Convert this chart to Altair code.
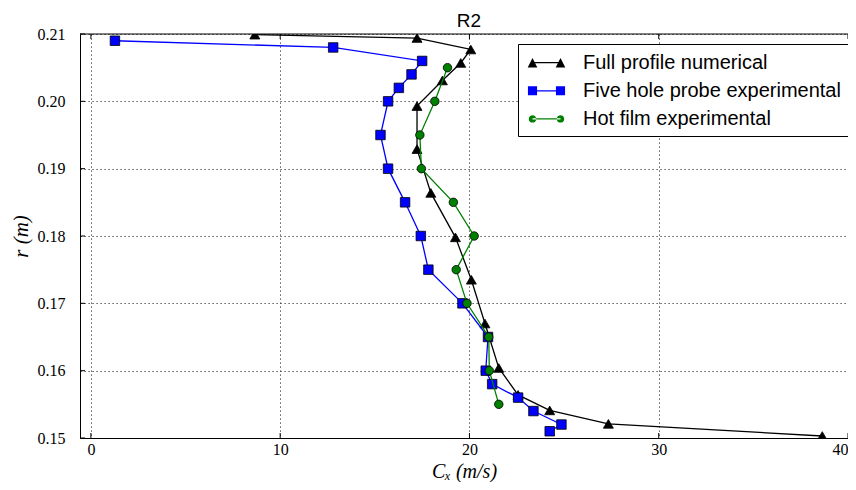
import altair as alt
import pandas as pd

chart_title = ["R2"]
series_names = ["Full profile numerical", "Five hole probe experimental", "Hot film experimental"]

full_x = [8.66, 17.23, 20.07, 19.54, 18.57, 17.23, 17.23, 17.96, 19.26, 20.10, 20.82, 21.55, 22.57, 24.24, 27.34, 38.64]
full_r = [0.2099, 0.2094, 0.2077, 0.2057, 0.2031, 0.1993, 0.1929, 0.1864, 0.1798, 0.1735, 0.1670, 0.1604, 0.1564, 0.1541, 0.1521, 0.1503]

five_x = [1.27, 12.80, 17.50, 16.94, 16.27, 15.70, 15.30, 15.70, 16.60, 17.43, 17.83, 19.63, 20.98, 20.86, 21.20, 22.57, 23.38, 24.86, 24.24]
five_r = [0.209, 0.208, 0.206, 0.204, 0.202, 0.200, 0.195, 0.190, 0.185, 0.180, 0.175, 0.170, 0.165, 0.160, 0.158, 0.156, 0.154, 0.152, 0.151]

hot_x = [18.84, 18.17, 17.38, 17.46, 19.15, 20.25, 19.30, 19.87, 21.02, 21.05, 21.55]
hot_r = [0.205, 0.200, 0.195, 0.190, 0.185, 0.180, 0.175, 0.170, 0.165, 0.160, 0.155]

x_ticks = [0, 10, 20, 30, 40]
y_ticks = [0.15, 0.16, 0.17, 0.18, 0.19, 0.20, 0.21]

rows = []
for name, xs, rs in zip(series_names, [full_x, five_x, hot_x], [full_r, five_r, hot_r]):
    for i, (xv, rv) in enumerate(zip(xs, rs)):
        rows.append({"series": name, "idx": i, "cx": xv, "r": rv})
df = pd.DataFrame(rows)

colors = ["#000000", "#0000ff", "#008000"]
shapes = ["triangle-up", "square", "circle"]
sizes = [100, 90, 72]

# legend sample paths (unit box -1..1, 12 px per unit)
tri = lambda c, h: f"M{c-h},{h}L{c},{-h}L{c+h},{h}Z"
sq = lambda c, h: f"M{c-h},{-h}L{c+h},{-h}L{c+h},{h}L{c-h},{h}Z"
circ = lambda c, r: f"M{c-r},0A{r},{r},0,1,0,{c+r},0A{r},{r},0,1,0,{c-r},0Z"
bar = "M-1.1667,-0.05L1.1667,-0.05L1.1667,0.05L-1.1667,0.05Z"
legend_paths = [
    tri(-1.1667, 0.4) + tri(1.1667, 0.4) + bar,
    sq(-1.1667, 0.38) + sq(1.1667, 0.38) + bar,
    circ(-1.1667, 0.31) + circ(1.1667, 0.31) + bar,
]

W, H = 768, 404
xscale = alt.Scale(domain=[-0.576, 40.0], nice=False, zero=False)
yscale = alt.Scale(domain=[0.15, 0.21], nice=False, zero=False)

xaxis = alt.Axis(values=x_ticks, format="d", title="Cₓ (m/s)", labelPadding=3, labelFlush=1,
                 titleY=39, titleBaseline="alphabetic", titleFontSize=20)
yaxis = alt.Axis(values=y_ticks, format=".2f", title="r (m)", labelPadding=15,
                 titleX=-59, titleY=H / 2, titleBaseline="middle")
X = alt.X("cx:Q", scale=xscale, axis=xaxis)
Y = alt.Y("r:Q", scale=yscale, axis=yaxis)

layers = []
tdx = pd.DataFrame({"cx": x_ticks})
tdy = pd.DataFrame({"r": y_ticks})
layers.append(alt.Chart(tdx).mark_rule(color="black", strokeWidth=1).encode(
    x=X, y=alt.value(H), y2=alt.value(H - 5)))
layers.append(alt.Chart(tdx).mark_rule(color="black", strokeWidth=1).encode(
    x=X, y=alt.value(0), y2=alt.value(5)))
layers.append(alt.Chart(tdy).mark_rule(color="black", strokeWidth=1).encode(
    y=Y, x=alt.value(0), x2=alt.value(5)))
# top frame line
layers.append(alt.Chart(tdx.head(1)).mark_rule(color="black", strokeWidth=1).encode(
    x=alt.value(0), x2=alt.value(W), y=alt.value(0)))
# chart title
layers.append(alt.Chart(pd.DataFrame({"t": chart_title})).mark_text(
    font="Liberation Sans", fontSize=19, color="black", align="center", baseline="alphabetic"
).encode(x=alt.value(389), y=alt.value(-7), text="t:N"))

for name, col, shp, sz in zip(series_names, colors, shapes, sizes):
    sub = alt.Chart(df).transform_filter(alt.datum.series == name)
    layers.append(sub.mark_line(color=col, strokeWidth=1.3, clip=True).encode(
        x=X, y=Y, order="idx:Q"))
    layers.append(sub.mark_point(filled=True, shape=shp, size=sz, fill=col, stroke="black",
                                 strokeWidth=0.8, opacity=1, clip=True).encode(x=X, y=Y))

leg = alt.Legend(title=None, orient="none", legendX=438, legendY=10)
layers.append(alt.Chart(df).mark_point(filled=True, size=0, opacity=1).encode(
    x=X, y=Y,
    shape=alt.Shape("series:N", scale=alt.Scale(domain=series_names, range=legend_paths), legend=leg),
    fill=alt.Fill("series:N", scale=alt.Scale(domain=series_names, range=colors), legend=leg),
))

chart = alt.layer(*layers).properties(
    width=W, height=H,
    padding={"left": 72, "top": 26, "right": 0, "bottom": 44},
    autosize="none",
).configure_view(strokeWidth=0, stroke=None).configure_axis(
    domainColor="black", domainWidth=1, ticks=False, tickSize=0,
    grid=True, gridColor="#333333", gridDash=[1.2, 2.8], gridWidth=1,
    labelFont="Liberation Serif", labelFontSize=16, labelColor="black",
    titleFont="Liberation Serif", titleFontSize=21, titleFontStyle="italic",
    titleFontWeight="normal", titleColor="black",
).configure_legend(
    strokeColor="black", fillColor="white", padding=6.7, cornerRadius=0,
    labelFont="Liberation Sans", labelFontSize=20, labelColor="black", labelLimit=400,
    symbolSize=576, symbolStrokeWidth=0, rowPadding=6.1, symbolOffset=9.8, labelOffset=24.5,
)

chart.save("out.html", embed_options={"renderer": "svg", "actions": False})
